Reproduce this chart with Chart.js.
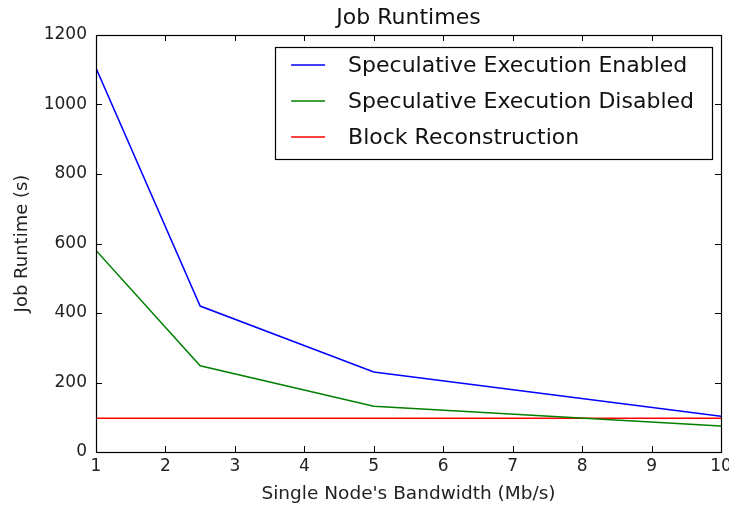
<!DOCTYPE html>
<html>
<head>
<meta charset="utf-8">
<script src="https://cdn.jsdelivr.net/npm/chart.js@4/dist/chart.umd.min.js"></script>
<style>
  html, body { margin: 0; padding: 0; background: #fff; }
  #wrap { width: 729px; height: 508px; position: relative; }
</style>
</head>
<body>
<div id="wrap"><canvas id="c" width="729" height="508"></canvas></div>
<script>
const chartTitle = 'Job Runtimes';
const bandwidth = [1, 2.5, 5, 10];
const specEnabled = [1105, 420, 230, 103];
const specDisabled = [580, 248, 132, 75];
const blockRecon = [97, 97, 97, 97];
const seriesLabels = ['Speculative Execution Enabled', 'Speculative Execution Disabled', 'Block Reconstruction'];
const seriesColors = ['#0000ff', '#008000', '#ff0000'];
const xTicks = [1, 2, 3, 4, 5, 6, 7, 8, 9, 10];
const yTicks = [0, 200, 400, 600, 800, 1000, 1200];

const FONT = "'DejaVu Sans', sans-serif";

function pts(xs, ys) { return xs.map((x, i) => ({ x: x, y: ys[i] })); }

const framePlugin = {
  id: 'frame',
  afterDraw(chart) {
    const ctx = chart.ctx, a = chart.chartArea;
    const xs = chart.scales.x, ys = chart.scales.y;
    ctx.save();
    // title centred over the plot area
    ctx.font = '22px ' + FONT;
    ctx.fillStyle = '#111';
    ctx.textAlign = 'center';
    ctx.textBaseline = 'middle';
    ctx.fillText(chartTitle, (a.left + a.right) / 2, 18);

    ctx.strokeStyle = '#000';
    ctx.lineWidth = 1.2;
    ctx.strokeRect(Math.round(a.left) + 0.5, Math.round(a.top) + 0.5,
                   Math.round(a.right - a.left), Math.round(a.bottom - a.top));
    const L = 6;
    ctx.lineWidth = 1;
    ctx.beginPath();
    xTicks.forEach(v => {
      const px = Math.round(xs.getPixelForValue(v)) + 0.5;
      ctx.moveTo(px, a.bottom); ctx.lineTo(px, a.bottom - L);
      ctx.moveTo(px, a.top); ctx.lineTo(px, a.top + L);
    });
    yTicks.forEach(v => {
      const py = Math.round(ys.getPixelForValue(v)) + 0.5;
      ctx.moveTo(a.left, py); ctx.lineTo(a.left + L, py);
      ctx.moveTo(a.right, py); ctx.lineTo(a.right - L, py);
    });
    ctx.stroke();

    // legend
    ctx.font = '22px ' + FONT;
    let maxW = 0;
    chart.data.datasets.forEach(d => { maxW = Math.max(maxW, ctx.measureText(d.label).width); });
    const boxW = 73 + maxW + 18;
    const boxH = 112;
    const right = a.right - 9;
    const left = right - boxW;
    const top = a.top + 12;
    ctx.fillStyle = '#fff';
    ctx.fillRect(left, top, boxW, boxH);
    ctx.lineWidth = 1.2;
    ctx.strokeStyle = '#000';
    ctx.strokeRect(Math.round(left) + 0.5, Math.round(top) + 0.5, Math.round(boxW), boxH);
    chart.data.datasets.forEach((d, i) => {
      const cy = top + 18 + i * 36;
      ctx.strokeStyle = d.borderColor;
      ctx.lineWidth = 1.5;
      ctx.beginPath();
      ctx.moveTo(left + 16, cy); ctx.lineTo(left + 50, cy);
      ctx.stroke();
      ctx.fillStyle = '#111';
      ctx.textBaseline = 'middle';
      ctx.textAlign = 'left';
      ctx.fillText(d.label, left + 73, cy + 1);
    });
    ctx.restore();
  }
};

new Chart(document.getElementById('c'), {
  type: 'line',
  data: {
    datasets: [
      { label: seriesLabels[0], data: pts(bandwidth, specEnabled), borderColor: seriesColors[0] },
      { label: seriesLabels[1], data: pts(bandwidth, specDisabled), borderColor: seriesColors[1] },
      { label: seriesLabels[2], data: pts(bandwidth, blockRecon), borderColor: seriesColors[2] }
    ].map(d => Object.assign(d, { borderWidth: 1.5, pointRadius: 0, fill: false, tension: 0 }))
  },
  plugins: [framePlugin],
  options: {
    responsive: false,
    animation: false,
    layout: { padding: { left: 0, right: 8, top: 35, bottom: 0 } },
    plugins: {
      legend: { display: false },
      tooltip: { enabled: false },
      title: { display: false }
    },
    scales: {
      x: {
        type: 'linear', min: 1, max: 10,
        afterBuildTicks(s) { s.ticks = xTicks.map(v => ({ value: v })); },
        afterFit(s) { s.height = 56; s.paddingLeft = 0; s.paddingRight = 0; },
        ticks: { color: '#222', font: { family: FONT, size: 17 }, padding: 4, maxRotation: 0, autoSkip: false },
        grid: { display: false, drawTicks: false },
        border: { display: false },
        title: { display: true, text: "Single Node's Bandwidth (Mb/s)", color: '#222',
                 font: { family: FONT, size: 18.5 }, padding: { top: 0, bottom: 3 } }
      },
      y: {
        type: 'linear', min: 0, max: 1200,
        afterBuildTicks(s) { s.ticks = yTicks.map(v => ({ value: v })); },
        afterFit(s) { s.width = 96; s.paddingTop = 0; s.paddingBottom = 0; },
        ticks: { color: '#222', font: { family: FONT, size: 17 }, padding: 9, autoSkip: false,
                 callback: v => String(v) },
        grid: { display: false, drawTicks: false },
        border: { display: false },
        title: { display: true, text: 'Job Runtime (s)', color: '#222',
                 font: { family: FONT, size: 18 }, padding: { top: 12, bottom: 0 } }
      }
    }
  }
});
</script>
</body>
</html>
